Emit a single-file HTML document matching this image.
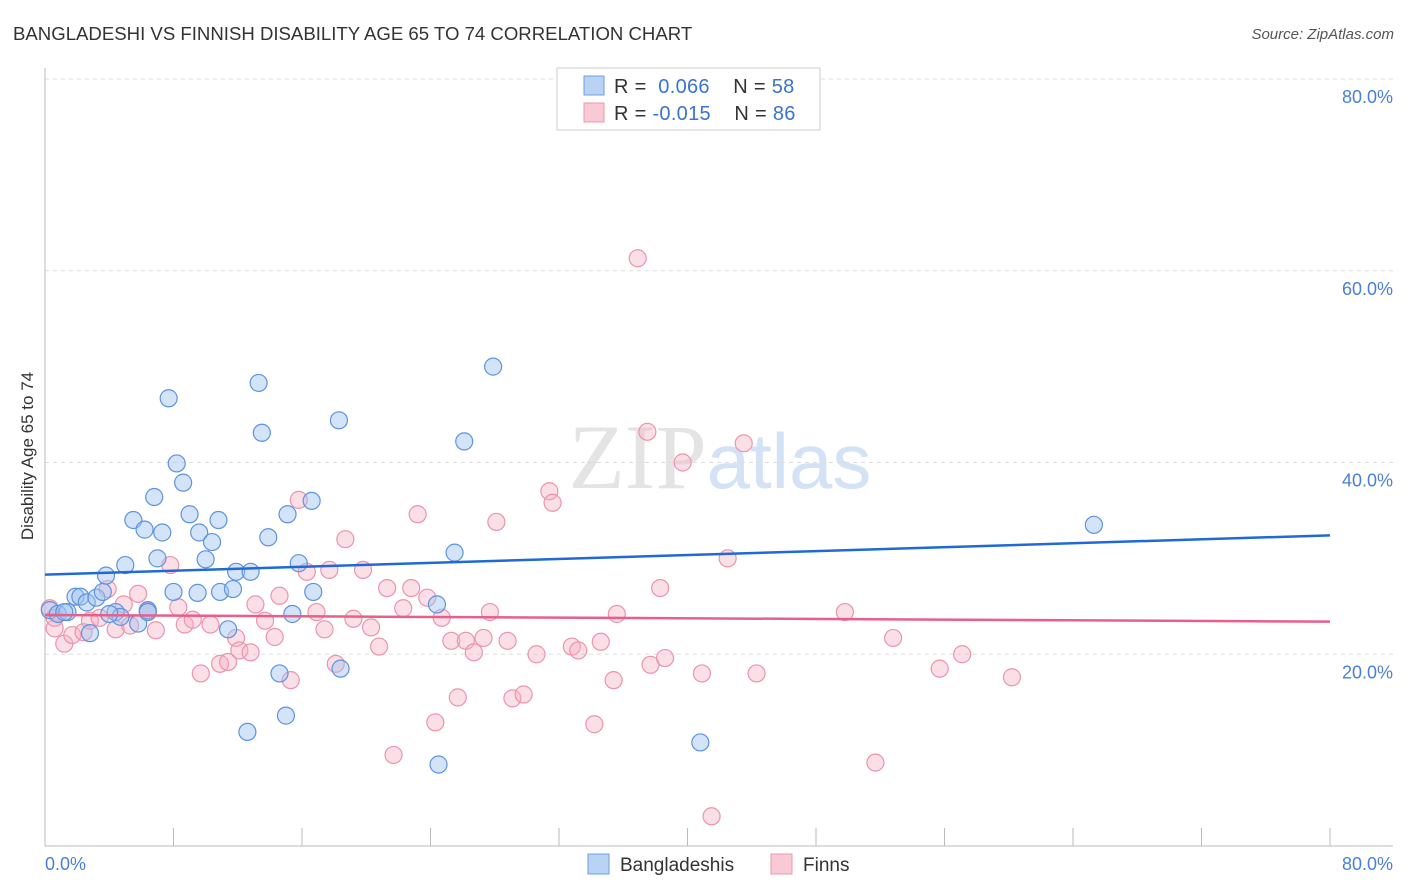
<!DOCTYPE html>
<html><head><meta charset="utf-8"><style>
body{margin:0;background:#fff;font-family:"Liberation Sans",sans-serif;}
svg{display:block}
</style></head><body>
<svg id="chart" width="1406" height="892" xmlns="http://www.w3.org/2000/svg">
<text x="13" y="40" font-size="18.6" fill="#333">BANGLADESHI VS FINNISH DISABILITY AGE 65 TO 74 CORRELATION CHART</text>
<text x="1394" y="39" font-size="15" fill="#555" font-style="italic" text-anchor="end">Source: ZipAtlas.com</text>
<text x="720" y="488" font-size="92" text-anchor="middle" fill="#e4e4e4" font-family="Liberation Serif,serif">ZIP<tspan fill="#d3e2f5" font-family="Liberation Sans,sans-serif" font-size="78">atlas</tspan></text>
<g id="grid"></g>
<g id="axes"></g>
<g id="pts"></g>
<g id="lines"></g>
<text transform="translate(33,456) rotate(-90)" font-size="17" fill="#333" text-anchor="middle">Disability Age 65 to 74</text>
<g>
<rect x="557" y="68" width="263" height="62" fill="#fff" stroke="#ccc"/>
<rect x="584" y="76" width="20" height="19" fill="#b9d3f5" stroke="#6f9ee0"/>
<rect x="584" y="103" width="20" height="19" fill="#f9c9d6" stroke="#eb97ae"/>
<text x="614" y="93" font-size="20" fill="#333" letter-spacing="0.3">R = <tspan fill="#3a73d0">&#160;0.066</tspan>&#160;&#160;&#160;&#160;N = <tspan fill="#3a73d0">58</tspan></text>
<text x="614" y="120" font-size="20" fill="#333" letter-spacing="0.3">R = <tspan fill="#3a73d0">-0.015</tspan>&#160;&#160;&#160;&#160;N = <tspan fill="#3a73d0">86</tspan></text>
</g>
<g>
<rect x="588" y="854" width="21" height="20" fill="#b9d3f5" stroke="#6f9ee0"/>
<text x="620" y="871" font-size="19" fill="#333">Bangladeshis</text>
<rect x="771" y="854" width="21" height="20" fill="#f9c9d6" stroke="#eb97ae"/>
<text x="803" y="871" font-size="19" fill="#333">Finns</text>
</g>
</svg>
<script>
const NS="http://www.w3.org/2000/svg";
const xTicks=[0,8,16,24,32,40,48,56,64,72,80];
const yTicks=[20,40,60,80];
const yTickLabels=["20.0%","40.0%","60.0%","80.0%"];
const xEndLabels=["0.0%","80.0%"];
const bangX=[0.3,0.8,1.4,1.9,2.2,2.6,2.8,3.2,3.6,3.8,4.4,4.7,5.0,5.5,5.8,6.2,6.4,6.8,7.0,7.3,7.7,8.0,8.2,8.6,9.0,9.5,9.6,10.0,10.4,10.8,10.9,11.4,11.7,11.9,12.6,12.8,13.3,13.5,13.9,14.6,15.0,15.1,15.4,15.8,16.6,16.7,18.3,18.4,24.4,24.5,25.5,26.1,27.9,40.8,65.3,1.2,4.0,6.4];
const bangY=[24.6,24.2,24.4,26.0,26.0,25.4,22.2,25.9,26.5,28.2,24.4,23.9,29.3,34.0,23.2,33.0,24.6,36.4,30.0,32.7,46.7,26.5,39.9,37.9,34.6,26.4,32.7,29.9,31.7,34.0,26.5,22.6,26.8,28.6,11.9,28.6,48.3,43.1,32.2,18.0,13.6,34.6,24.2,29.5,36.0,26.5,44.4,18.5,25.2,8.5,30.6,42.2,50.0,10.8,33.5,24.4,24.2,24.4];
const finnX=[0.3,0.6,1.2,1.7,2.4,2.8,3.4,3.9,4.4,4.9,5.3,5.8,6.4,6.9,7.8,8.3,8.7,9.2,9.7,10.3,10.9,11.4,11.9,12.1,12.8,13.1,13.7,14.3,14.6,15.3,15.8,16.3,16.9,17.4,17.7,18.1,18.7,19.2,19.8,20.3,20.8,21.3,21.7,22.3,22.8,23.2,23.8,24.3,24.7,25.3,25.7,26.2,26.7,27.3,27.7,28.1,28.8,29.1,29.8,30.6,31.4,31.6,32.8,33.2,34.2,34.6,35.4,35.6,36.9,37.5,37.7,38.3,38.6,39.7,40.9,41.5,42.5,43.5,44.3,49.8,51.7,52.8,55.7,57.1,60.2,0.6];
const finnY=[24.8,22.7,21.1,22.0,22.3,23.5,23.8,26.8,22.6,25.2,23.0,26.3,24.5,22.5,29.3,24.9,23.1,23.6,18.0,23.1,19.0,19.2,21.7,20.4,20.2,25.2,23.5,21.8,26.1,17.3,36.1,28.6,24.4,22.6,28.8,19.0,32.0,23.7,28.8,22.8,20.8,26.9,9.5,24.8,26.9,34.6,25.9,12.9,23.8,21.4,15.5,21.4,20.2,21.7,24.4,33.8,21.4,15.4,15.8,20.0,37.0,35.8,20.8,20.4,12.7,21.3,17.3,24.2,61.3,43.2,18.9,26.9,19.6,40.0,18.0,3.1,30.0,42.0,18.0,24.4,8.7,21.7,18.5,20.0,17.6,23.8];
const bangTrend=[28.3,32.4];
const finnTrend=[24.1,23.4];
const X=v=>45+v*(1330-45)/80;
const Y=v=>846-v*(846-79)/80;
function mk(t,a,p){const e=document.createElementNS(NS,t);for(const k in a)e.setAttribute(k,a[k]);(p||document.getElementById('chart')).appendChild(e);return e;}
const grid=document.getElementById('grid'),axes=document.getElementById('axes'),pts=document.getElementById('pts'),lines=document.getElementById('lines');
yTicks.forEach((v,i)=>{
 const g=mk('line',{x1:45,x2:1393,y1:Y(v),y2:Y(v),stroke:'#ddd','stroke-dasharray':'4,4'},grid);
 
 
 const t=mk('text',{x:1393,y:Y(v)+24,'font-size':18,fill:'#4a7fd8','text-anchor':'end'},axes);
 t.textContent=yTickLabels[i];
 
 
});
const ax=mk('line',{x1:45,x2:45,y1:68,y2:846,stroke:'#bbb'},axes);


const bx=mk('line',{x1:45,x2:1393,y1:846,y2:846,stroke:'#bbb'},axes);


xTicks.forEach(v=>{
 const l=mk('line',{x1:X(v),x2:X(v),y1:828,y2:846,stroke:'#bbb'},axes);
 
 
});
const xl0=mk('text',{x:45,y:870,'font-size':18,fill:'#4a7fd8'},axes);xl0.textContent=xEndLabels[0];


const xl1=mk('text',{x:1393,y:870,'font-size':18,fill:'#4a7fd8','text-anchor':'end'},axes);xl1.textContent=xEndLabels[1];


finnX.forEach((v,i)=>{
 const c=mk('circle',{cx:X(v),cy:Y(finnY[i]),r:8.5,fill:'rgba(246,176,196,0.4)',stroke:'#ec93ad','stroke-width':1.2},pts);
 
 
});
bangX.forEach((v,i)=>{
 const c=mk('circle',{cx:X(v),cy:Y(bangY[i]),r:8.5,fill:'rgba(160,195,240,0.45)',stroke:'#5e93dd','stroke-width':1.2},pts);
 
 
});
const tb=mk('line',{x1:X(0),x2:X(80),y1:Y(bangTrend[0]),y2:Y(bangTrend[1]),stroke:'#1f6ad6','stroke-width':2.5},lines);


const tf=mk('line',{x1:X(0),x2:X(80),y1:Y(finnTrend[0]),y2:Y(finnTrend[1]),stroke:'#e8608a','stroke-width':2.5},lines);


</script>
</body></html>
